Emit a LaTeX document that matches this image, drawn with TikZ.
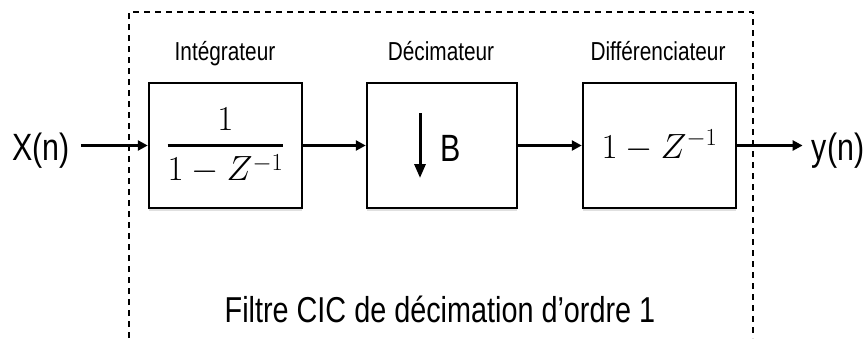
\RequirePackage{fix-cm}
\documentclass[tikz,border=0pt]{standalone}
\usepackage{amsmath}
\usepackage[no-math]{fontspec}
\setmainfont{Liberation Sans}[FakeStretch=0.8]
\usetikzlibrary{arrows.meta,shadows}
\begin{document}
\begin{tikzpicture}[x=1pt,y=-1pt,
  blk/.style={draw=black,line width=2.5pt,fill=white,minimum width=153pt,minimum height=125pt,inner sep=0pt,
    drop shadow={fill=black,opacity=0.12,shadow xshift=0pt,shadow yshift=-3pt}},
  lbl/.style={font=\fontsize{26}{30}\selectfont,inner sep=0pt,anchor=base},
  io/.style={font=\fontsize{38}{42}\selectfont,inner sep=0pt,anchor=base},
  mth/.style={font=\fontsize{35}{40}\selectfont},
  arr/.style={line width=3pt,-{Triangle[length=10pt,width=10pt]}},
  frame/.style={line width=1.4pt,dash pattern=on 6pt off 5pt}]
\useasboundingbox (0,0) rectangle (868,338);
% dashed frame
\draw[frame] (129,338) -- (129,12) -- (753,12) -- (753,338);
% blocks
\node[blk,mth] (b1) at (225.5,145.5) {$\displaystyle\genfrac{}{}{2.6pt}{0}{1}{1-Z^{-1}}$};
\node[blk,minimum width=150pt] (b2) at (442,145.5) {};
\node[blk,mth] (b3) at (659.5,145.5) {$1-Z^{-1}$};
% labels
\node[lbl] (l1) at (225,60) {Intégrateur};
\node[lbl] (l2) at (441,60) {Décimateur};
\node[lbl] (l3) at (658,60) {Différenciateur};
% decimator content
\coordinate (da1) at (420,113);
\coordinate (da2) at (420,178);
\draw[line width=3pt,-{Triangle[length=14pt,width=11pt]}] (da1) -- (da2);
\node[io,font=\fontsize{38}{42}\selectfont] (bb) at (451,161) {B};
% input / output
\node[io] (xn) at (41,160) {X(n)};
\node[io] (yn) at (838,160) {y(n)};
\draw[arr] (xn.east |- b1.west) ++(11,0) -- (b1.west);
\draw[arr] (b1.east) -- (b2.west);
\draw[arr] (b2.east) -- (b3.west);
\draw[arr,shorten >=9pt] (b3.east) -- (yn.west |- b3.east);
% caption
\node[io,font=\fontsize{36}{40}\selectfont] (cap) at (440,322) {Filtre CIC de décimation d’ordre 1};
\end{tikzpicture}
\end{document}
